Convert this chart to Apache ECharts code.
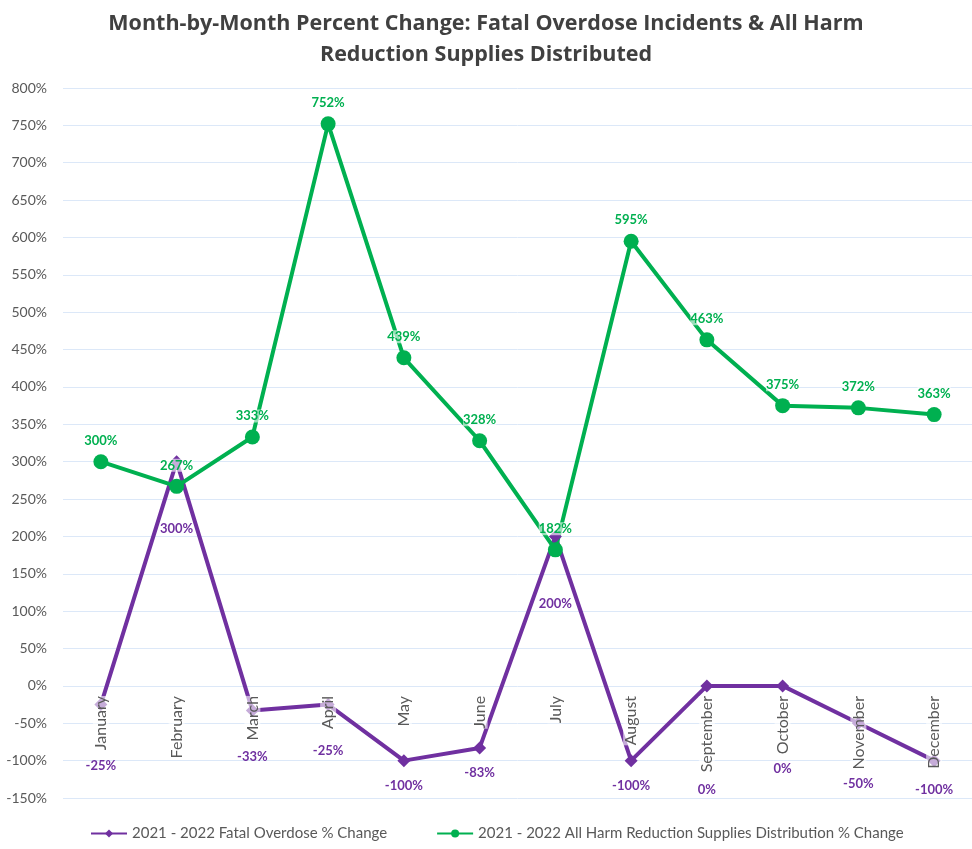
<!DOCTYPE html>
<html>
<head>
<meta charset="utf-8">
<script src="https://cdn.jsdelivr.net/npm/echarts@6/dist/echarts.min.js"></script>
<style>
  html, body { margin: 0; padding: 0; background: #fff; }
  #chart { width: 972px; height: 849px; }
</style>
</head>
<body>
<div id="chart"></div>
<script>
  // months along the x axis
  var months = ['January', 'February', 'March', 'April', 'May', 'June', 'July',
    'August', 'September', 'October', 'November', 'December'];
  // 2021 - 2022 fatal overdose % change
  var overdose = [-25, 300, -33, -25, -100, -83, 200, -100, 0, 0, -50, -100];
  // 2021 - 2022 all harm reduction supplies distribution % change
  var supplies = [300, 267, 333, 752, 439, 328, 182, 595, 463, 375, 372, 363];
  // label nudges (px below the point) for the purple labels, as placed in the original
  var overdoseLabelDy = [61, 67, 46, 46, 25, 25, 67, 25, 104, 83, 61, 29];

  var yMin = -150, yMax = 800, yStep = 50;
  var gridTop = 88, gridBottom = 51;
  var plotHeight = 849 - gridTop - gridBottom;
  // month labels sit on the 0% line, like the Excel original
  var zeroOffset = -plotHeight * (0 - yMin) / (yMax - yMin);

  var font = 'Lato, "Open Sans", sans-serif';
  var purple = '#7030a0';
  var green = '#00b050';

  var chart = echarts.init(document.getElementById('chart'));

  chart.setOption({
    backgroundColor: '#fff',
    textStyle: { fontFamily: font },
    title: {
      text: 'Month-by-Month Percent Change: Fatal Overdose Incidents & All Harm\nReduction Supplies Distributed',
      left: 'center',
      top: 3,
      textStyle: {
        fontFamily: '"Open Sans", sans-serif',
        fontSize: 21.5,
        fontWeight: 'bold',
        color: '#404040',
        lineHeight: 31
      }
    },
    legend: {
      bottom: 3,
      left: 85,
      itemGap: 49,
      itemWidth: 36,
      itemHeight: 10,
      textStyle: { fontFamily: font, fontSize: 15, color: '#595959' },
      data: [
        '2021 - 2022 Fatal Overdose % Change',
        '2021 - 2022 All Harm Reduction Supplies Distribution % Change'
      ]
    },
    grid: { left: 63, right: 0, top: gridTop, bottom: gridBottom, outerBoundsMode: 'none' },
    xAxis: {
      type: 'category',
      data: months,
      z: 3,
      offset: zeroOffset,
      axisLine: { show: false, onZero: false },
      axisTick: { show: false },
      axisLabel: {
        rotate: 90,
        margin: 10,
        fontSize: 16,
        color: '#595959',
        fontFamily: font,
        backgroundColor: 'rgba(255,255,255,0.6)'
      }
    },
    yAxis: {
      type: 'value',
      min: yMin,
      max: yMax,
      interval: yStep,
      axisLine: { show: false },
      axisTick: { show: false },
      axisLabel: {
        formatter: '{value}%',
        fontSize: 14,
        color: '#595959',
        margin: 16,
        fontFamily: font
      },
      splitLine: { lineStyle: { color: '#dce8f8', width: 1 } }
    },
    series: [
      {
        name: '2021 - 2022 Fatal Overdose % Change',
        type: 'line',
        symbol: 'diamond',
        symbolSize: 13,
        z: 2,
        lineStyle: { color: purple, width: 4 },
        itemStyle: { color: purple },
        data: overdose.map(function (v, i) {
          return {
            value: v,
            label: { offset: [0, overdoseLabelDy[i]] }
          };
        }),
        label: {
          show: true,
          position: 'inside',
          formatter: '{c}%',
          color: purple,
          fontSize: 13,
          fontWeight: 'bold',
          fontFamily: font
        }
      },
      {
        name: '2021 - 2022 All Harm Reduction Supplies Distribution % Change',
        type: 'line',
        symbol: 'circle',
        symbolSize: 15,
        z: 2,
        lineStyle: { color: green, width: 4 },
        itemStyle: { color: green },
        data: supplies,
        label: {
          show: true,
          position: 'top',
          distance: 7,
          formatter: '{c}%',
          color: green,
          fontSize: 13,
          fontWeight: 'bold',
          fontFamily: font,
          backgroundColor: 'rgba(255,255,255,0.6)'
        }
      }
    ]
  });
</script>
</body>
</html>
